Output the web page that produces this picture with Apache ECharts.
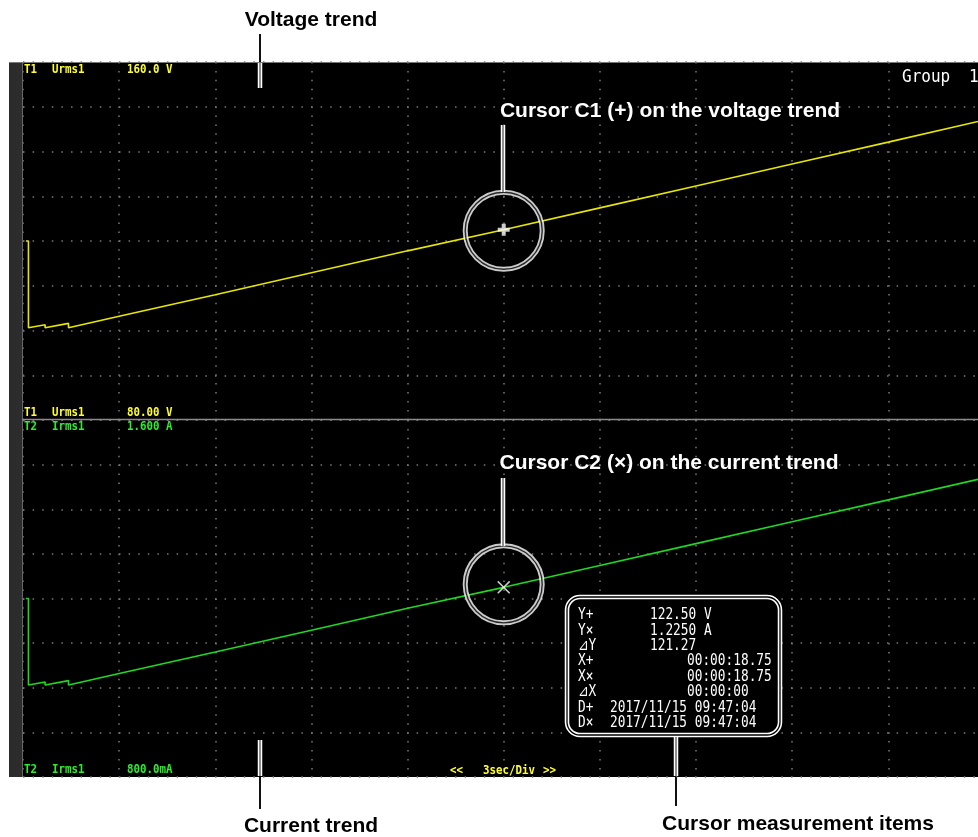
<!DOCTYPE html>
<html>
<head>
<meta charset="utf-8">
<title>Voltage / current trend with cursors</title>
<script src="https://cdn.jsdelivr.net/npm/echarts@6/dist/echarts.min.js"></script>
<style>
    html, body { margin: 0; padding: 0; background: #fff; }
    #main { width: 978px; height: 837px; }
</style>
</head>
<body>
<div id="main"></div>
<script>
    // time across the screen in seconds (3 sec/div, the right edge is cut just before 30 s)
    var times   = [0.09, 0.17, 0.17, 0.69, 0.69, 1.42, 1.42, 3, 6, 9, 12, 15, 18, 21, 24, 27, 29.8];
    // T1 Urms1 (V)
    var voltage = [120.0, 120.0, 100.6, 101.3, 100.6, 101.6, 100.6, 103.2, 108.0, 112.9, 117.8, 122.5, 127.4, 132.3, 137.2, 142.1, 146.7];
    // T2 Irms1 (A)
    var current = [1.200, 1.200, 1.006, 1.013, 1.006, 1.016, 1.006, 1.032, 1.080, 1.129, 1.178, 1.225, 1.274, 1.323, 1.372, 1.421, 1.467];

    // scale limits and their labels
    var voltRange = [80, 160];
    var ampRange = [0.8, 1.6];
    var timeRange = [0, 29.8];
    var voltLabels = ['160.0 V', '80.00 V'];
    var ampLabels = ['1.600 A', '800.0mA'];
    var timeLabel = '3sec/Div';

    // cursor positions (time, value)
    var cursorPlus = [15, 122.5];
    var cursorCross = [15, 1.225];
    var cursorNames = ['Y+', 'Y\u00d7', '\u22bfY', 'X+', 'X\u00d7', '\u22bfX', 'D+', 'D\u00d7'];
    var cursorValues = ['122.50 V', '1.2250 A', '121.27', '00:00:18.75', '00:00:18.75', '00:00:00',
        '2017/11/15 09:47:04', '2017/11/15 09:47:04'];

    var yellow = '#ffff2e';
    var green = '#2bef2b';
    var mono = '"DejaVu Sans Mono", "Liberation Mono", monospace';
    var sans = '"Liberation Sans", Arial, sans-serif';

    function txt(x, y, s, color, font, align, sx) {
        return {
            type: 'text', x: x, y: y, z: 20, scaleX: sx || 1, silent: true,
            style: {
                text: s, fill: color, font: font,
                textAlign: align || 'left', textVerticalAlign: 'middle',
                align: align || 'left', verticalAlign: 'middle'
            }
        };
    }
    // double white line on the black screen
    function lightLeader(x, y1, y2) {
        return [
            {type: 'line', z: 20, shape: {x1: x, y1: y1, x2: x, y2: y2}, style: {stroke: '#fff', lineWidth: 4.5}},
            {type: 'line', z: 21, shape: {x1: x, y1: y1, x2: x, y2: y2}, style: {stroke: '#555', lineWidth: 1.3}}
        ];
    }
    // plain dark line on the white page
    function darkLeader(x, y1, y2) {
        return [{type: 'line', z: 20, shape: {x1: x, y1: y1, x2: x, y2: y2}, style: {stroke: '#111', lineWidth: 2}}];
    }

    function pairs(xs, ys) {
        return xs.map(function (t, i) { return [t, ys[i]]; });
    }

    var dots = '#7a7a7a';
    function xAx(i) {
        return {
            type: 'value', gridIndex: i, min: timeRange[0], max: timeRange[1], interval: 3,
            axisLine: {show: false}, axisTick: {show: false}, axisLabel: {show: false},
            splitLine: {show: true, showMaxLine: false, lineStyle: {color: dots, width: 1.5, type: [1.5, 7.42]}}
        };
    }
    function yAx(i, range, step) {
        return {
            type: 'value', gridIndex: i, min: range[0], max: range[1], interval: step,
            axisLine: {show: false}, axisTick: {show: false}, axisLabel: {show: false},
            splitLine: {show: true, lineStyle: {color: dots, width: 1.5, type: [1.5, 8.1]}}
        };
    }

    var plusPath = 'path://M4,0H8V4H12V8H8V12H4V8H0V4H4Z';
    var crossPath = 'path://M0,1L1,0L6,5L11,0L12,1L7,6L12,11L11,12L6,7L1,12L0,11L5,6Z';

    function ring(xi, point, color, width, offset) {
        return {
            type: 'scatter', xAxisIndex: xi, yAxisIndex: xi, z: 5, silent: true,
            data: [point], symbol: 'circle', symbolSize: 77, symbolOffset: [0, offset],
            itemStyle: {color: 'rgba(0,0,0,0)', borderColor: color, borderWidth: width}
        };
    }

    var elements = [
        {type: 'rect', z: 20, shape: {x: 9, y: 62, width: 13, height: 715}, style: {fill: '#2c2c2c'}},
        {type: 'line', z: 20, shape: {x1: 22.5, y1: 62, x2: 22.5, y2: 777}, style: {stroke: '#666', lineWidth: 1}},
        {type: 'line', z: 20, shape: {x1: 9, y1: 62.5, x2: 978, y2: 62.5}, style: {stroke: '#777', lineWidth: 1}},
        {type: 'line', z: 20, shape: {x1: 22, y1: 419.5, x2: 978, y2: 419.5}, style: {stroke: '#8c8c8c', lineWidth: 1.5}}
    ];

    // channel labels
    var chFont = 'bold 12px ' + mono;
    elements.push(
        txt(24, 70, 'T1', yellow, chFont, 'left', 0.9),
        txt(52, 70, 'Urms1', yellow, chFont, 'left', 0.9),
        txt(127, 70, voltLabels[0], yellow, chFont, 'left', 0.9),
        txt(24, 413, 'T1', yellow, chFont, 'left', 0.9),
        txt(52, 413, 'Urms1', yellow, chFont, 'left', 0.9),
        txt(127, 413, voltLabels[1], yellow, chFont, 'left', 0.9),
        txt(24, 427, 'T2', green, chFont, 'left', 0.9),
        txt(52, 427, 'Irms1', green, chFont, 'left', 0.9),
        txt(127, 427, ampLabels[0], green, chFont, 'left', 0.9),
        txt(24, 770, 'T2', green, chFont, 'left', 0.9),
        txt(52, 770, 'Irms1', green, chFont, 'left', 0.9),
        txt(127, 770, ampLabels[1], green, chFont, 'left', 0.9),
        txt(450, 771, '<<', yellow, chFont, 'left', 0.9),
        txt(483, 771, timeLabel, yellow, chFont, 'left', 0.9),
        txt(543, 771, '>>', yellow, chFont, 'left', 0.9),
        txt(902, 77, 'Group', '#fff', '18px ' + mono, 'left', 0.89),
        txt(969, 77, '1', '#fff', '18px ' + mono, 'left', 0.89)
    );

    // callouts
    var calloutFont = 'bold 21px ' + sans;
    elements.push(
        txt(311, 20, 'Voltage trend', '#000', calloutFont, 'center'),
        txt(670, 111, 'Cursor C1 (+) on the voltage trend', '#fff', calloutFont, 'center'),
        txt(669, 463, 'Cursor C2 (\u00d7) on the current trend', '#fff', calloutFont, 'center'),
        txt(311, 826, 'Current trend', '#000', calloutFont, 'center'),
        txt(798, 824, 'Cursor measurement items', '#000', calloutFont, 'center')
    );
    elements = elements
        .concat(darkLeader(260, 34, 62), lightLeader(260, 63, 88))
        .concat(lightLeader(503, 125, 192))
        .concat(lightLeader(503, 478, 546))
        .concat(lightLeader(260, 740, 776), darkLeader(260, 777, 809))
        .concat(lightLeader(676, 737, 776), darkLeader(676, 777, 806));

    // cursor readout box
    elements.push(
        {type: 'rect', z: 20, shape: {x: 567, y: 597, width: 213, height: 138, r: 13},
            style: {fill: '#000', stroke: '#fff', lineWidth: 4.5}},
        {type: 'rect', z: 21, shape: {x: 567, y: 597, width: 213, height: 138, r: 13},
            style: {fill: 'none', stroke: '#000', lineWidth: 1.3}}
    );
    var valueX = [650, 650, 650, 687, 687, 687, 610, 610];
    var boxFont = '16px ' + mono;
    cursorNames.forEach(function (n, i) {
        var y = 615 + i * 15.4;
        elements.push(txt(578, y, n, '#fff', boxFont, 'left', 0.8));
        elements.push(txt(valueX[i], y, cursorValues[i], '#fff', boxFont, 'left', 0.8));
    });

    var chart = echarts.init(document.getElementById('main'));
    chart.setOption({
        backgroundColor: '#fff',
        animation: false,
        grid: [
            {left: 23, top: 62, width: 955, height: 358, show: true, backgroundColor: '#000', borderWidth: 0},
            {left: 23, top: 420, width: 955, height: 357, show: true, backgroundColor: '#000', borderWidth: 0}
        ],
        xAxis: [xAx(0), xAx(1)],
        yAxis: [yAx(0, voltRange, 10), yAx(1, ampRange, 0.1)],
        series: [
            {
                type: 'line', xAxisIndex: 0, yAxisIndex: 0, z: 3, silent: true,
                data: pairs(times, voltage), symbol: 'none',
                lineStyle: {color: '#e6e600', width: 1.6}
            },
            {
                type: 'line', xAxisIndex: 1, yAxisIndex: 1, z: 3, silent: true,
                data: pairs(times, current), symbol: 'none',
                lineStyle: {color: '#1fd81f', width: 1.6}
            },
            ring(0, cursorPlus, '#fff', 5, 1),
            ring(0, cursorPlus, '#000', 1.4, 1),
            ring(1, cursorCross, '#fff', 5, -3),
            ring(1, cursorCross, '#000', 1.4, -3),
            {
                type: 'scatter', xAxisIndex: 0, yAxisIndex: 0, z: 6, silent: true,
                data: [cursorPlus], symbol: plusPath, symbolSize: 12,
                itemStyle: {color: '#fff'}
            },
            {
                type: 'scatter', xAxisIndex: 1, yAxisIndex: 1, z: 6, silent: true,
                data: [cursorCross], symbol: crossPath, symbolSize: 13,
                itemStyle: {color: '#fff'}
            }
        ],
        graphic: {elements: elements}
    });
</script>
</body>
</html>
